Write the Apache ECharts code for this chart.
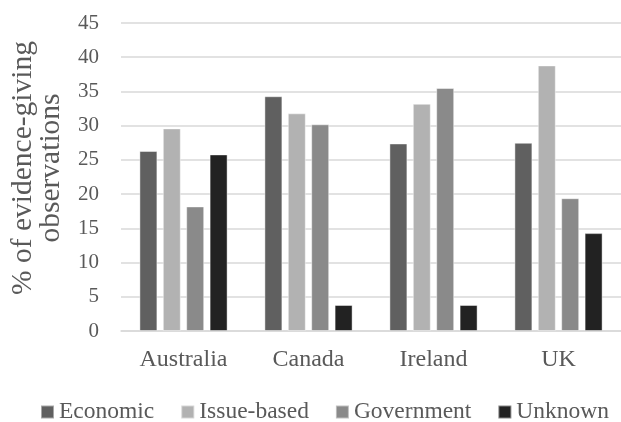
<!DOCTYPE html>
<html>
<head>
<meta charset="utf-8">
<script src="https://cdn.jsdelivr.net/npm/echarts@6/dist/echarts.min.js"></script>
<style>html,body{margin:0;padding:0;background:#fff;}#c{width:621px;height:422px;}</style>
</head>
<body>
<div id="c"></div>
<script>
var categories = ['Australia', 'Canada', 'Ireland', 'UK'];
var economic = [26.3, 34.3, 27.4, 27.5];
var issueBased = [29.6, 31.8, 33.2, 38.8];
var government = [18.2, 30.2, 35.5, 19.4];
var unknown = [25.8, 3.8, 3.8, 14.3];
var seriesNames = ['Economic', 'Issue-based', 'Government', 'Unknown'];
var yTicks = [0, 45, 5];
var yTitle = '% of evidence-giving\nobservations';

var colors = ['#606060', '#b2b2b2', '#8a8a8a', '#222222'];
var font = '"Liberation Serif", "Times New Roman", serif';
var dataSets = [economic, issueBased, government, unknown];

var chart = echarts.init(document.getElementById('c'), null, {renderer: 'canvas'});
chart.setOption({
  animation: false,
  color: colors,
  grid: {left: 120, top: 23, width: 506, height: 308, containLabel: false},
  legend: {
    data: seriesNames,
    left: 35, top: 395,
    itemWidth: 13, itemHeight: 13, itemGap: 26,
    icon: 'rect',
    textStyle: {fontFamily: font, fontSize: 23.5, color: '#595959'}
  },
  xAxis: {
    type: 'category',
    data: categories,
    axisLine: {lineStyle: {color: '#d9d9d9', width: 1.5}},
    axisTick: {show: false},
    axisLabel: {fontFamily: font, fontSize: 24, color: '#595959', margin: 17}
  },
  yAxis: {
    type: 'value',
    min: yTicks[0], max: yTicks[1], interval: yTicks[2],
    name: yTitle,
    nameLocation: 'middle',
    nameGap: 56,
    nameTextStyle: {fontFamily: font, fontSize: 29.5, color: '#595959', lineHeight: 28, padding: [0, 0, 0, 18]},
    axisLine: {show: false},
    axisTick: {show: false},
    splitLine: {lineStyle: {color: '#d9d9d9', width: 1.5}},
    axisLabel: {fontFamily: font, fontSize: 21, color: '#595959', margin: 22}
  },
  series: dataSets.map(function (d, i) {
    return {
      name: seriesNames[i],
      type: 'bar',
      data: d,
      barWidth: 18,
      barGap: '30%',
      itemStyle: {color: colors[i], borderColor: 'rgba(255,255,255,0.45)', borderWidth: 1}
    };
  })
});
</script>
</body>
</html>
